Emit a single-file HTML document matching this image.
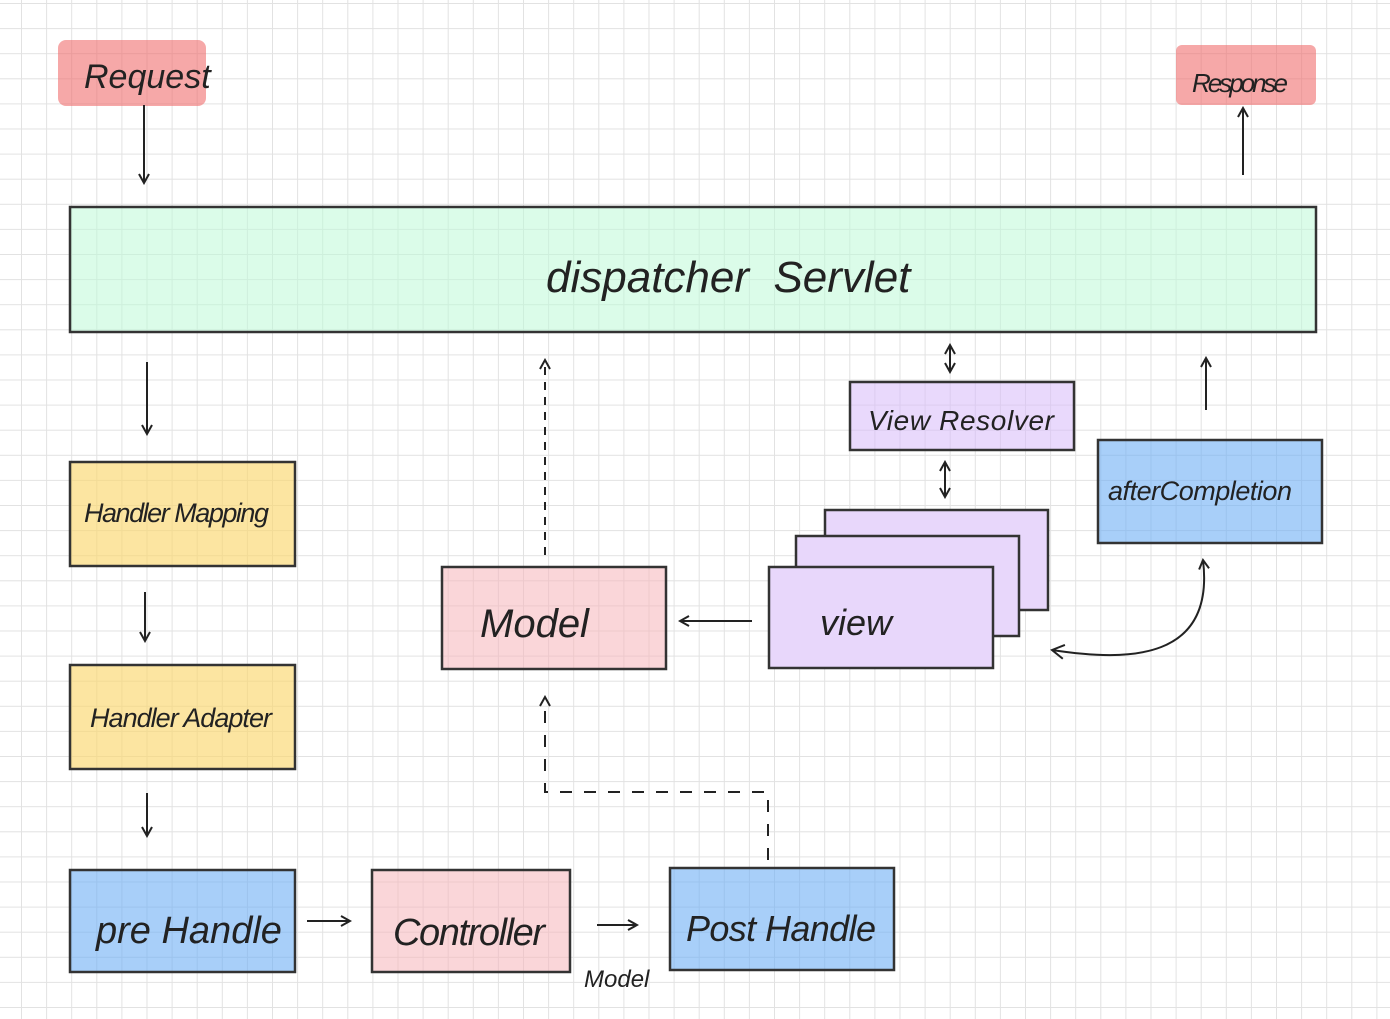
<!DOCTYPE html>
<html><head><meta charset="utf-8"><style>
html,body{margin:0;padding:0;background:#fff;}
svg{display:block;}
text{font-family:"Liberation Sans",sans-serif;fill:#222;}
</style></head><body>
<svg width="1390" height="1019" viewBox="0 0 1390 1019" xmlns="http://www.w3.org/2000/svg">
<defs>
<pattern id="g" x="21" y="3" width="25.1" height="25.1" patternUnits="userSpaceOnUse">
<path d="M0 0V25.1M0 0H25.1" stroke="#e2e2e2" stroke-width="2" fill="none"/>
</pattern>
<marker id="a" markerWidth="12" markerHeight="12" refX="10" refY="6" orient="auto" markerUnits="userSpaceOnUse">
<path d="M1 1L10 6L1 11" fill="none" stroke="#222" stroke-width="2"/>
</marker>
<marker id="b" markerWidth="16" markerHeight="16" refX="2" refY="8" orient="auto" markerUnits="userSpaceOnUse">
<path d="M14 1L2 8L14 15" fill="none" stroke="#222" stroke-width="2"/>
</marker>
</defs>
<rect width="1390" height="1019" fill="#fff"/>
<rect width="1390" height="1019" fill="url(#g)"/>
<g stroke="#333" stroke-width="2.5">
<rect x="58" y="40" width="148" height="66" rx="8" fill="rgba(240,110,110,0.6)" stroke="none"/>
<rect x="1176" y="45" width="140" height="60" rx="6" fill="rgba(240,110,110,0.6)" stroke="none"/>
<rect x="70" y="207" width="1246" height="125" fill="rgba(190,250,215,0.55)"/>
<rect x="70" y="462" width="225" height="104" fill="rgba(250,215,110,0.65)"/>
<rect x="70" y="665" width="225" height="104" fill="rgba(250,215,110,0.65)"/>
<rect x="70" y="870" width="225" height="102" fill="rgba(110,175,245,0.6)"/>
<rect x="372" y="870" width="198" height="102" fill="rgba(245,180,185,0.55)"/>
<rect x="670" y="868" width="224" height="102" fill="rgba(110,175,245,0.6)"/>
<rect x="442" y="567" width="224" height="102" fill="rgba(245,180,185,0.55)"/>
<rect x="850" y="382" width="224" height="68" fill="rgba(215,185,250,0.55)"/>
<rect x="1098" y="440" width="224" height="103" fill="rgba(110,175,245,0.6)"/>
<rect x="825" y="510" width="223" height="100" fill="#e8d7fb"/>
<rect x="796" y="536" width="223" height="100" fill="#e8d7fb"/>
<rect x="769" y="567" width="224" height="101" fill="#e8d7fb"/>
</g>
<g stroke="#222" stroke-width="2" fill="none" marker-end="url(#a)">
<path d="M144 105V183"/>
<path d="M1243 175V108"/>
<path d="M147 362V434"/>
<path d="M145 592V641"/>
<path d="M147 793V836"/>
<path d="M307 921H350"/>
<path d="M597 925H637"/>
<path d="M752 621H680"/>
<path d="M1206 410V358"/>
<path d="M1052 650C1130 662 1215 660 1203 560" marker-start="url(#b)"/>
<path d="M545 555V360" stroke-dasharray="8 7"/>
<path d="M768 860V792H545V697" stroke-dasharray="12 12"/>
<path d="M950 370V345"/><path d="M950 350V372"/>
<path d="M945 495V462"/><path d="M945 470V497"/>
</g>
<g font-style="italic">
<text x="84" y="88" font-size="34">Request</text>
<text x="1192" y="92" font-size="26" textLength="96">Response</text>
<text x="546" y="292" font-size="44">dispatcher&#160;&#160;Servlet</text>
<text x="84" y="522" font-size="27" textLength="185">Handler Mapping</text>
<text x="90" y="727" font-size="27" textLength="182">Handler Adapter</text>
<text x="96" y="943" font-size="38">pre Handle</text>
<text x="393" y="945" font-size="38" textLength="152">Controller</text>
<text x="686" y="941" font-size="36" textLength="190">Post Handle</text>
<text x="584" y="987" font-size="24">Model</text>
<text x="480" y="637" font-size="40">Model</text>
<text x="820" y="635" font-size="36">view</text>
<text x="868" y="430" font-size="28" textLength="186">View Resolver</text>
<text x="1108" y="500" font-size="27" textLength="184">afterCompletion</text>
</g>
</svg>
</body></html>
